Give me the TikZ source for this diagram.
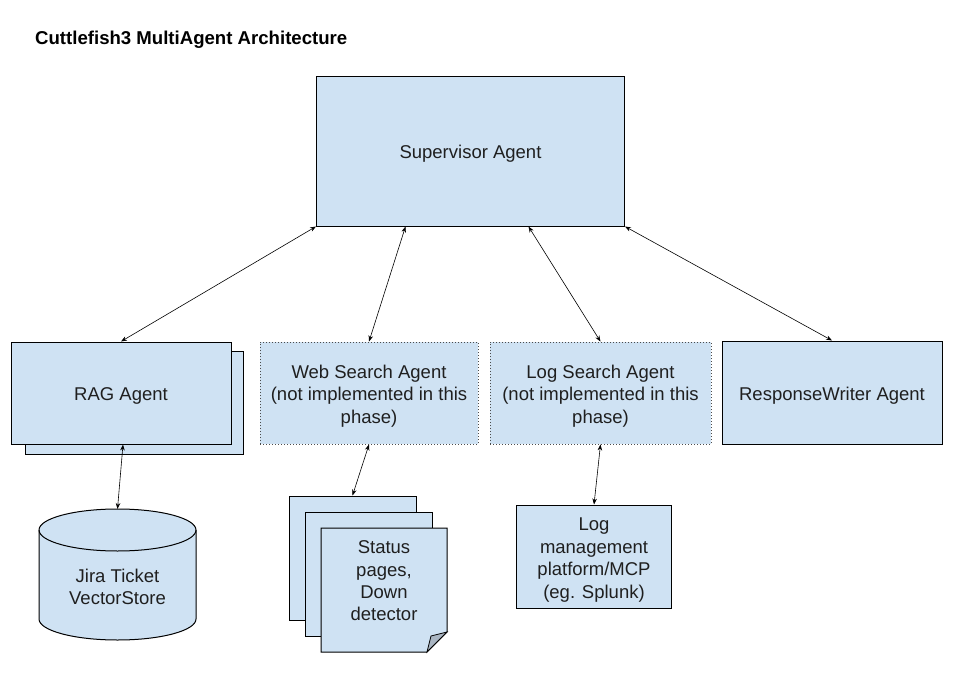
\documentclass[tikz,border=0pt]{standalone}
\usepackage{fontspec}
\setmainfont{Liberation Sans}
\usetikzlibrary{arrows.meta}
\definecolor{boxfill}{HTML}{CFE2F3}
\definecolor{foldfill}{HTML}{A9B5C2}
\definecolor{txt}{HTML}{1F1F1F}
\tikzset{
  box/.style={draw=black, fill=boxfill, line width=1pt, rectangle, inner sep=0pt},
  dotbox/.style={box, draw=black!70, dotted, line width=0.9pt},
  lbl/.style={text=txt, align=center, font=\fontsize{18.5}{22.4}\selectfont, inner sep=0pt},
  conn/.style={line width=0.6pt, {Stealth[length=6pt,width=4.5pt]}-{Stealth[length=6pt,width=4.5pt]}}
}
\begin{document}
\begin{tikzpicture}[x=1pt,y=-1pt]
\useasboundingbox (0,0) rectangle (958,679);
\fill[white] (0,0) rectangle (958,679);

\node[anchor=base west, text=black, font=\fontsize{18.6}{22}\selectfont\bfseries, inner sep=0pt] (title) at (35,45) {Cuttlefish3 MultiAgent Architecture};

\node[box, minimum width=308, minimum height=149] (sup) at (470.5,151.5) {};
\node[lbl] (supt) at (470.5,154) {Supervisor Agent};

% RAG stack
\node[box, minimum width=218, minimum height=103] (ragback) at (134,402.5) {};
\node[box, minimum width=220, minimum height=102] (rag) at (121,393) {};
\node[lbl] (ragt) at (121,396) {RAG Agent};

\node[dotbox, minimum width=218, minimum height=102] (web) at (369,393) {};
\node[lbl] (webt) at (369,396) {Web Search Agent\\(not implemented in this\\phase)};

\node[dotbox, minimum width=221, minimum height=102] (log) at (600.5,393) {};
\node[lbl] (logt) at (600.5,396) {Log Search Agent\\(not implemented in this\\phase)};

\node[box, minimum width=220, minimum height=103] (rw) at (832,392.5) {};
\node[lbl] (rwt) at (832,396) {ResponseWriter Agent};

% cylinder
\draw[line width=1pt, fill=boxfill] (39,530) -- (39,619)
  arc[start angle=180, end angle=360, x radius=78.5pt, y radius=21pt]
  -- (196,530)
  arc[start angle=0, end angle=180, x radius=78.5pt, y radius=21pt] -- cycle;
\draw[line width=1pt] (39,530) arc[start angle=180, end angle=360, x radius=78.5pt, y radius=21pt];
\coordinate (storetop) at (117.5,509);
\node[lbl] (store) at (117.5,587) {Jira Ticket\\VectorStore};

% documents stack
\node[box, minimum width=127, minimum height=124] (doc1) at (352.5,558) {};
\node[box, minimum width=127, minimum height=124] (doc2) at (368.5,574) {};
\draw[line width=1pt, fill=boxfill] (321,528) -- (447,528) -- (447,632) -- (427,652) -- (321,652) -- cycle;
\draw[line width=0.8pt, fill=foldfill] (447,632) -- (431,636) -- (427,652) -- cycle;
\node[lbl] (status) at (384,581) {Status\\pages,\\Down\\detector};

% log management
\node[box, minimum width=155, minimum height=103] (lm) at (594,556.5) {};
\node[lbl] (lmt) at (594,560) {Log\\management\\platform/MCP\\(eg. Splunk)};

% connectors
\draw[conn] (sup.south west) -- (rag.north);
\draw[conn] ([xshift=-65pt]sup.south) -- (web.north);
\draw[conn] ([xshift=58pt]sup.south) -- (log.north);
\draw[conn] (sup.south east) -- (rw.north);
\draw[conn] ([xshift=2pt]rag.south) -- (storetop);
\draw[conn] (web.south) -- (doc1.north);
\draw[conn] (log.south) -- (lm.north);
\end{tikzpicture}
\end{document}
